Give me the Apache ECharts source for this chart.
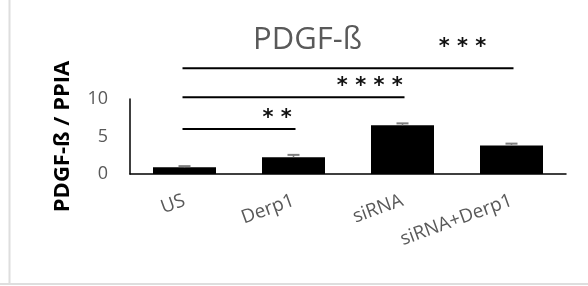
<!DOCTYPE html>
<html lang="en">
<head>
<meta charset="UTF-8">
<title>PDGF-ß</title>
<script src="https://cdn.jsdelivr.net/npm/echarts@6/dist/echarts.min.js"></script>
<style>
  html, body { margin: 0; padding: 0; background: #fff; }
  #chart { width: 588px; height: 286px; }
</style>
</head>
<body>
<div id="chart"></div>
<script>
// groups and measured ratios
const categories = ['US', 'Derp1', 'siRNA', 'siRNA+Derp1'];
const values = [0.9, 2.25, 6.5, 3.8];
const errors = [0.15, 0.3, 0.25, 0.25];
const yTicks = [0, 5, 10];

// significance brackets: from group, to group, bar level, star level, stars
const bracketFrom = [0, 0, 0];
const bracketTo = [1, 2, 3];
const bracketLevel = [6.0, 10.25, 14.1];
const starLevel = [7.4, 11.6, 16.8];
const bracketStars = ['* *', '* * * *', '* * *'];

const gray = '#595959';
const font = '"Open Sans", "Noto Sans", sans-serif';

const chart = echarts.init(document.getElementById('chart'));

chart.setOption({
    animation: false,
    title: {
        text: 'PDGF-ß',
        left: 248,
        top: 20,
        textStyle: { fontFamily: font, fontSize: 31, fontWeight: 'normal', color: gray }
    },
    graphic: [
        { type: 'line', shape: { x1: 9.5, y1: 0, x2: 9.5, y2: 284 }, style: { stroke: '#dedede', lineWidth: 2 } },
        { type: 'line', shape: { x1: 0, y1: 284, x2: 588, y2: 284 }, style: { stroke: '#dedede', lineWidth: 2 } }
    ],
    grid: { left: 130, right: 22, top: 99, bottom: 112 },
    xAxis: {
        type: 'category',
        data: categories,
        axisLine: { lineStyle: { color: '#000', width: 1.5 } },
        axisTick: { show: false },
        axisLabel: { rotate: 20, margin: 26, fontFamily: font, fontSize: 19, color: gray, interval: 0 }
    },
    yAxis: {
        type: 'value',
        min: yTicks[0],
        max: yTicks[yTicks.length - 1],
        interval: yTicks[1] - yTicks[0],
        name: 'PDGF-ß / PPIA',
        nameLocation: 'middle',
        nameRotate: 90,
        nameGap: 56,
        nameTextStyle: { fontFamily: font, fontSize: 22, fontWeight: 'bold', color: '#000' },
        axisLine: { show: true, lineStyle: { color: '#000', width: 1.5 } },
        axisTick: { show: false },
        splitLine: { show: false },
        axisLabel: { margin: 22, fontFamily: font, fontSize: 18, color: gray }
    },
    series: [
        {
            type: 'bar',
            data: values,
            barWidth: 63,
            itemStyle: { color: '#000' }
        },
        {
            // error bars
            type: 'custom',
            data: values.map((v, i) => [i, v, errors[i]]),
            renderItem: (params, api) => {
                const i = api.value(0);
                const base = api.coord([i, api.value(1)]);
                const top = api.coord([i, api.value(1) + api.value(2)]);
                return {
                    type: 'group',
                    children: [
                        { type: 'line', shape: { x1: base[0], y1: base[1], x2: top[0], y2: top[1] }, style: { stroke: '#7f7f7f', lineWidth: 1.5 } },
                        { type: 'line', shape: { x1: top[0] - 6, y1: top[1], x2: top[0] + 6, y2: top[1] }, style: { stroke: '#7f7f7f', lineWidth: 2 } }
                    ]
                };
            },
            z: 3
        },
        {
            // significance brackets
            type: 'custom',
            clip: false,
            data: bracketFrom.map((f, i) => [f, bracketTo[i], bracketLevel[i], starLevel[i]]),
            renderItem: (params, api) => {
                const a = api.coord([api.value(0), api.value(2)]);
                const b = api.coord([api.value(1), api.value(2)]);
                const s = api.coord([api.value(1), api.value(3)]);
                const sx = a[0] + (b[0] - a[0]) * 0.85;
                return {
                    type: 'group',
                    children: [
                        { type: 'line', shape: { x1: a[0] - 2, y1: a[1], x2: b[0] + 2, y2: b[1] }, style: { stroke: '#000', lineWidth: 2 } },
                        { type: 'text', style: { text: bracketStars[params.dataIndex], x: sx, y: s[1], align: 'center', verticalAlign: 'middle', font: 'bold 21px "DejaVu Sans"', fill: '#111' } }
                    ]
                };
            }
        }
    ]
});
</script>
</body>
</html>
